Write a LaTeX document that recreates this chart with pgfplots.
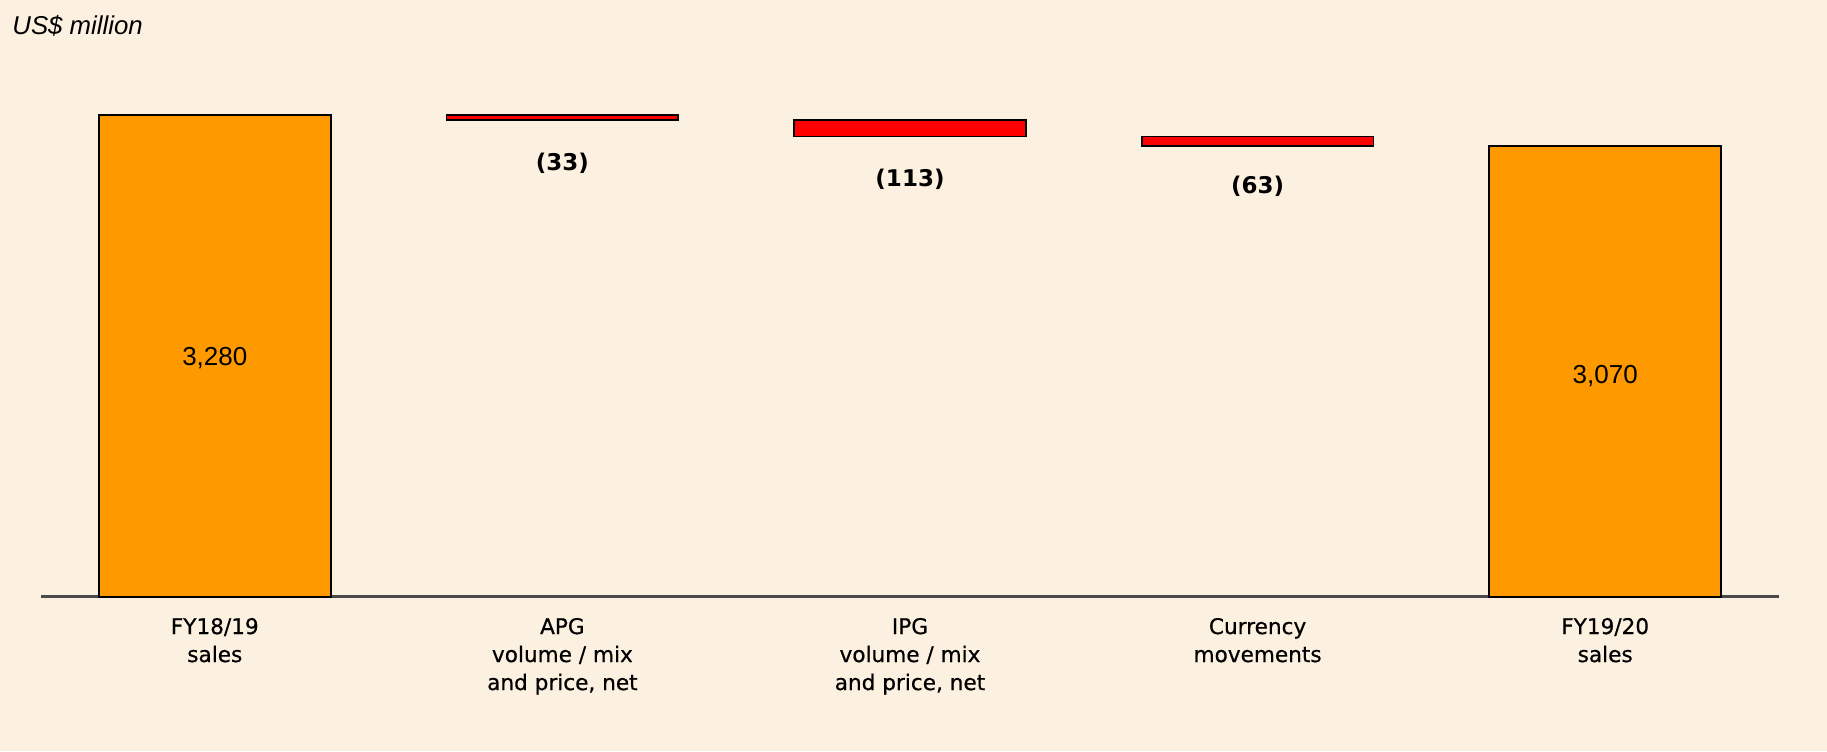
\documentclass[border=0pt]{standalone}
\usepackage{pgfplots}
\pgfplotsset{compat=1.18}
\usepackage{fontspec}
\setmainfont{Liberation Sans}
\newfontfamily\labelfont[FakeBold=0.6]{DejaVu Sans}
\newfontfamily\deltafont{DejaVu Sans Bold}
\usetikzlibrary{backgrounds,calc}
\definecolor{bgcream}{HTML}{FCF0E1}
\definecolor{barorange}{HTML}{FF9900}
\definecolor{barred}{HTML}{FF0000}
\definecolor{axisgray}{HTML}{4A4A4A}

\begin{document}
\begin{tikzpicture}
\begin{axis}[
  name=wf,
  scale only axis,
  width=869pt, height=240.8pt,
  xmin=-0.5, xmax=4.5, ymin=0, ymax=3280,
  clip=false,
  axis x line=bottom, axis y line=none,
  x axis line style={-, draw=axisgray, line width=1.2pt},
  ybar stacked, bar width=0.667,
  xtick={0,1,2,3,4}, major tick length=0pt,
  xticklabels={{FY18/19\\sales},{APG\\volume / mix\\and price, net},{IPG\\volume / mix\\and price, net},{Currency\\movements},{FY19/20\\sales}},
  xticklabel style={align=center, font=\labelfont\fontsize{10.8}{14}\selectfont, anchor=north, inner sep=0pt, yshift=-10.5pt},
  ytick=\empty,
]
% invisible base that lifts the floating bars
\addplot[draw=none, fill=none] coordinates {(0,0) (1,3247) (2,3134) (3,3071) (4,0)};
% opening and closing totals
\addplot[fill=barorange, draw=black, line width=0.9pt] coordinates {(0,3280) (1,0) (2,0) (3,0) (4,3070)};
% negative movements
\addplot[fill=barred, draw=black, line width=0.9pt] coordinates {(0,0) (1,33) (2,113) (3,63) (4,0)};

\coordinate (t0) at (axis cs:0,1625);
\coordinate (t4) at (axis cs:4,1505);
\coordinate (d1) at (axis cs:1,3247);
\coordinate (d2) at (axis cs:2,3134);
\coordinate (d3) at (axis cs:3,3071);
\end{axis}

% value labels, set above the bars
\node[font=\fontsize{13}{15}\selectfont] at (t0) {3,280};
\node[font=\fontsize{13}{15}\selectfont] at (t4) {3,070};
\node[font=\deltafont\fontsize{11.5}{13}\selectfont, yshift=-21.5pt] at (d1) {(33)};
\node[font=\deltafont\fontsize{11.5}{13}\selectfont, yshift=-21.5pt] at (d2) {(113)};
\node[font=\deltafont\fontsize{11.5}{13}\selectfont, yshift=-20.5pt] at (d3) {(63)};

\node[anchor=base west, inner sep=0pt, font=\itshape\fontsize{12.9}{15}\selectfont] at ($(wf.south west)+(-14.5pt,281pt)$) {US\$ million};

\begin{scope}[on background layer]
  \fill[bgcream] ($(wf.south west)+(-20.5pt,-77.2pt)$) rectangle ++(913.5pt,375.5pt);
\end{scope}
\pgfresetboundingbox
\path ($(wf.south west)+(-20.5pt,-77.2pt)$) rectangle ++(913.5pt,375.5pt);
\end{tikzpicture}
\end{document}
